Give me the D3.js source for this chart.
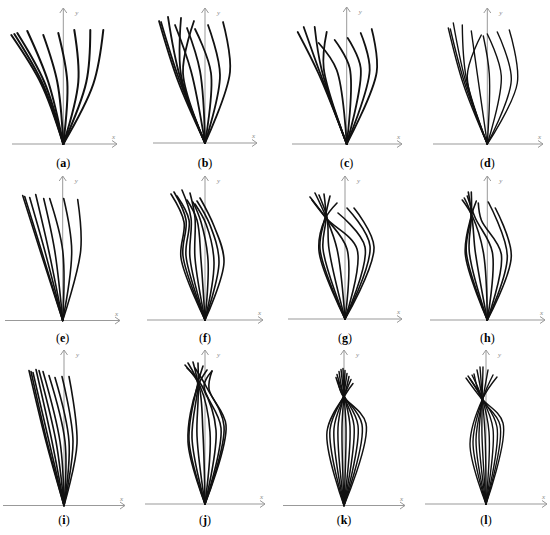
<!DOCTYPE html>
<html><head><meta charset="utf-8">
<script src="https://cdn.jsdelivr.net/npm/d3@7"></script>
<style>body{margin:0;background:#fff}svg{display:block}</style>
</head><body>
<script>
// Each curve: points [dx, dy] measured from the panel origin (origin itself implicit)
const curvesA = [
 [[-22,60],[-52,109]],[[-21,61],[-49,110]],[[-19,62],[-46,111]],[[-15,62],[-36,113]],
 [[-6,62],[-20,109]],[[4,62],[-5,111]],[[15,62],[11,114]],[[23,62],[27,114]],[[30,60],[40,114]]
];
const curvesB = [
 [[-27,62],[-46,122]],[[-26,64],[-44,121]],[[-25,66],[-37,126]],[[-24,68],[-24,125]],
 [[-22,70],[-11,122]],[[-14,72],[-30,118]],[[-5,72],[-18,115]],[[6,70],[-10,114]],
 [[15,68],[3,118]],[[25,71],[18,121]]
];
const curvesC = [
 [[-28,70],[-49,112]],[[-27,72],[-43,117]],[[-25,74],[-32,117]],[[-23,76],[-20,112]],
 [[-10,74],[-28,101]],[[3,76],[-12,104]],[[14,76],[1,106]],[[23,74],[14,111]],[[30,72],[25,115]]
];
const curvesD = [
 [[-24,60],[-39,116]],[[-23,62],[-37,115]],[[-22,64],[-34,121]],[[-21,66],[-25,119]],
 [[-20,68],[-6,109]],[[-10,70],[-16,113]],[[2,70],[-4,108]],[[14,68],[0,110]],
 [[24,64],[10,112]],[[30,61],[22,114]]
];
const curvesE = [
 [[-22,68],[-40,125]],[[-21,69],[-38,124]],[[-18,70],[-33,123]],[[-14,70],[-27,126]],
 [[-8,70],[-19,122]],[[0,70],[-13,122]],[[9,70],[1,122]],[[18,70],[15,121]]
];
const curvesF = [
 [[-24,62],[-21,98],[-34,126]],[[-22,64],[-19,100],[-31,128]],[[-19,64],[-16,100],[-28,124]],
 [[-15,62],[-14,102],[-23,130]],[[-10,62],[-10,102],[-15,127]],[[-4,60],[-8,100],[-18,120]],
 [[3,60],[-4,98],[-12,118]],[[9,58],[1,96],[-10,116]],[[14,58],[5,95],[-8,119]],[[19,58],[9,94],[-5,122]]
];
const curvesG = [
 [[-26,68],[-20,100],[-8,116]],[[-25,70],[-20,101],[-15,123]],[[-22,70],[-19,101],[-21,125]],
 [[-16,70],[-18,102],[-26,124]],[[-8,70],[-19,102],[-30,126]],[[2,70],[-19,101],[-35,122]],
 [[12,70],[-18,100],[-33,119]],[[20,72],[-7,106]],[[25,73],[2,111]],[[29,72],[9,111]]
];
const curvesH = [
 [[-22,66],[-16,104],[-11,119]],[[-21,68],[-16,105],[-16,128]],[[-18,68],[-16,105],[-19,128]],
 [[-12,68],[-16,105],[-23,122]],[[-4,68],[-15,104],[-25,120]],[[5,68],[-12,102],[-20,124]],
 [[14,66],[-6,100],[-9,117]],[[20,64],[1,118]],[[24,64],[8,112]]
];
const curvesI = [
 [[-18,64],[-35,135]],[[-17,64],[-33,134]],[[-15,64],[-31,133]],[[-12,64],[-28,136]],
 [[-8,64],[-25,135]],[[-4,64],[-21,134]],[[1,64],[-15,130]],[[5,64],[-9,128]],
 [[9,64],[-2,129]],[[13,62],[5,129]]
];
const curvesJ = [
 [[-17,62],[-8,116],[2,134]],[[-16,64],[-8,117],[-2,138]],[[-13,66],[-7,118],[-7,141]],
 [[-8,68],[-7,118],[-12,142]],[[-2,70],[-6,118],[-17,141]],[[5,72],[-5,118],[-20,139]],
 [[11,74],[-3,118],[-18,136]],[[16,76],[-1,118],[7,133]],[[19,78],[2,116],[-10,136]],
 [[21,79],[4,115],[7,133]]
];
const curvesK = [
 [[-17,74],[2,112],[9,122]],[[-14,76],[1,112],[7,126]],[[-10,77],[1,112],[5,129]],
 [[-6,78],[0,112],[3,132]],[[-2,78],[0,112],[1,135]],[[2,78],[0,112],[-1,137]],
 [[6,79],[0,112],[-3,136]],[[10,80],[-1,112],[-5,134]],[[14,80],[-1,112],[-7,131]],
 [[18,81],[-2,112],[-8,128]],[[22,82],[-2,111],[-6,125]]
];
const curvesL = [
 [[-16,60],[-3,106],[11,127]],[[-13,62],[-3,106],[7,129]],[[-10,64],[-3,106],[2,134]],
 [[-7,66],[-4,106],[-3,137]],[[-4,68],[-4,106],[-6,137]],[[-1,70],[-4,106],[-9,134]],
 [[3,72],[-4,106],[-14,129]],[[7,75],[-4,106],[-18,128]],[[11,77],[-4,106],[-16,125]],
 [[14,79],[-5,106],[-12,130]],[[17,81],[-5,106],[-20,126]]
];
const panelLetters = ["a","b","c","d","e","f","g","h","i","j","k","l"];
const panelCurves = [curvesA,curvesB,curvesC,curvesD,curvesE,curvesF,curvesG,curvesH,curvesI,curvesJ,curvesK,curvesL];

// layout (pixel positions of each panel's origin and axes)
const layout = [
 {ox:63.3, oy:144, xl:12, xr:117, yt:8, ly:167, sw:2},
 {ox:205, oy:143, xl:153, xr:257, yt:8, ly:167, sw:1.8},
 {ox:346.7, oy:144, xl:292, xr:402, yt:7, ly:167, sw:1.8},
 {ox:487.3, oy:144, xl:433, xr:543, yt:8, ly:167, sw:1.4},
 {ox:62.7, oy:320.5, xl:5, xr:120, yt:176, ly:342, sw:1.6},
 {ox:205, oy:320, xl:147, xr:263, yt:176, ly:342, sw:1.6},
 {ox:345, oy:319, xl:288, xr:402, yt:176, ly:342, sw:1.6},
 {ox:487.3, oy:320, xl:430, xr:545, yt:176, ly:342, sw:1.6},
 {ox:64, oy:505.5, xl:3, xr:125, yt:350, ly:524, sw:1.6},
 {ox:205, oy:504, xl:145, xr:265, yt:350, ly:524, sw:1.6},
 {ox:344, oy:505.5, xl:283, xr:405, yt:350, ly:524, sw:1.5},
 {ox:486, oy:504, xl:425, xr:547, yt:350, ly:524, sw:1.4}
];

const W = 550, H = 535;
const svg = d3.select("body").append("svg").attr("width", W).attr("height", H);
const axisColor = "#999";

panelCurves.forEach((curves, i) => {
  const L = layout[i];
  const x = d3.scaleLinear().domain([-60, 60]).range([L.ox - 60, L.ox + 60]);
  const y = d3.scaleLinear().domain([0, 150]).range([L.oy, L.oy - 150]);
  const g = svg.append("g");

  // axes
  g.append("line").attr("x1", L.xl).attr("x2", L.xr).attr("y1", L.oy).attr("y2", L.oy)
    .attr("stroke", axisColor).attr("stroke-width", 1);
  g.append("path").attr("d", `M${L.xr-5},${L.oy-3.5}L${L.xr},${L.oy}L${L.xr-5},${L.oy+3.5}`)
    .attr("fill", "none").attr("stroke", axisColor).attr("stroke-width", 1);
  g.append("line").attr("x1", L.ox).attr("x2", L.ox).attr("y1", L.oy).attr("y2", L.yt)
    .attr("stroke", axisColor).attr("stroke-width", 1);
  g.append("path").attr("d", `M${L.ox-3.5},${L.yt+5}L${L.ox},${L.yt}L${L.ox+3.5},${L.yt+5}`)
    .attr("fill", "none").attr("stroke", axisColor).attr("stroke-width", 1);
  g.append("text").attr("x", L.ox + 12).attr("y", L.yt + 7).text("y")
    .attr("font-family", "Liberation Serif").attr("font-style", "italic")
    .attr("font-size", 7).attr("fill", "#888");
  g.append("text").attr("x", L.xr - 5).attr("y", L.oy - 5).text("x")
    .attr("font-family", "Liberation Serif").attr("font-style", "italic")
    .attr("font-size", 7).attr("fill", "#888");

  // curves
  const line = d3.line().x(d => x(d[0])).y(d => y(d[1])).curve(d3.curveCatmullRom.alpha(0.5));
  g.selectAll("path.c").data(curves).join("path").attr("class", "c")
    .attr("d", d => line([[0, 0], ...d]))
    .attr("fill", "none").attr("stroke", "#111").attr("stroke-width", L.sw)
    .attr("stroke-linecap", "round");

  // label
  const t = g.append("text").attr("x", L.ox).attr("y", L.ly).attr("text-anchor", "middle")
    .attr("font-family", "Liberation Serif").attr("font-size", 12).attr("fill", "#000");
  t.append("tspan").text("(");
  t.append("tspan").attr("font-weight", "bold").text(panelLetters[i]);
  t.append("tspan").text(")");
});
</script>
</body></html>
